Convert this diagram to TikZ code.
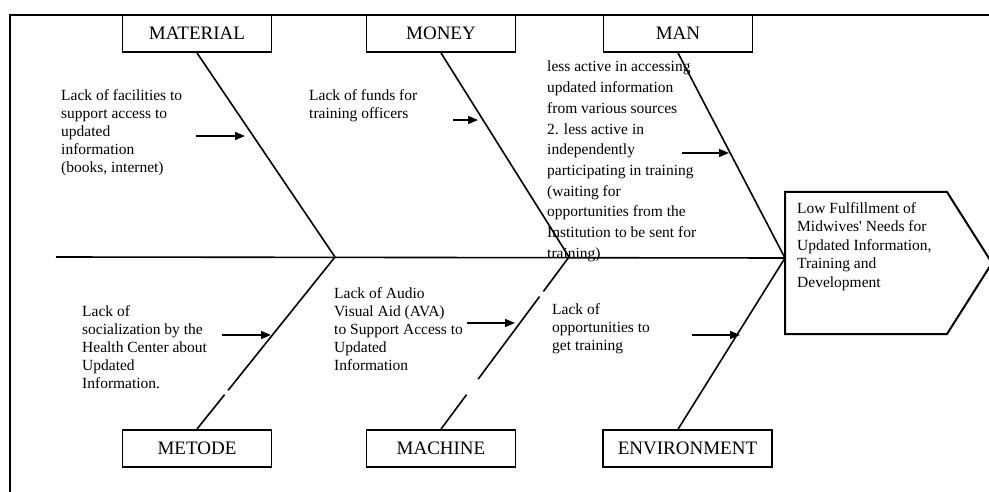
\documentclass[tikz,border=0pt]{standalone}
\usepackage{fontspec}
\setmainfont{Liberation Serif}
\usetikzlibrary{arrows.meta,calc}
\begin{document}
\begin{tikzpicture}[x=1pt,y=-1pt,
  frameline/.style={line width=2pt},
  bone/.style={line width=1.6pt},
  catbox/.style={draw,line width=1.9pt,minimum width=149pt,minimum height=37pt,inner sep=0pt,
    font=\fontsize{19}{22}\selectfont},
  cause/.style={anchor=north west,align=left,inner sep=0pt,font=\fontsize{15.5}{18}\selectfont},
  causearrow/.style={line width=1.6pt,-{Triangle[length=10pt,width=8pt]}},
]
\useasboundingbox (0,0) rectangle (989,492);
\clip (0,0) rectangle (989,492);

% outer frame
\draw[frameline] (10,492) -- (10,15) -- (989,15);

% category boxes
\node[catbox] (material) at (197,33.5) {MATERIAL};
\node[catbox] (money)    at (441,33.5) {MONEY};
\node[catbox] (man)      at (678,33.5) {MAN};
\node[catbox] (metode)   at (197,448.5) {METODE};
\node[catbox] (machine)  at (441,448.5) {MACHINE};
\node[catbox,minimum width=169pt] (env) at (687.5,448.5) {ENVIRONMENT};

% fish head
\draw[frameline] (785,192) -- (947,192) -- (992,263) -- (947,334) -- (785,334) -- cycle;
\node[cause,font=\fontsize{15.5}{18.5}\selectfont] (effect) at (797,202)
  {Low Fulfillment of\\Midwives\textquotesingle{} Needs for\\Updated Information,\\Training and\\Development};

% spine and junctions
\coordinate (tail) at (56,257);
\coordinate (jA) at (335,257);
\coordinate (jB) at (569,257);
\coordinate (head) at (785,258);
\draw[bone] (tail) -- (head);

% upper bones
\draw[bone] (material.south) -- (jA);
\draw[bone] (money.south) -- (jB);
\draw[bone] (man.south) -- (head);

% lower bones (with small breaks)
\draw[bone] (metode.north) -- ($(metode.north)!0.2!(jA)$);
\draw[bone] ($(metode.north)!0.225!(jA)$) -- (jA);
\draw[bone] (machine.north) -- ($(machine.north)!0.2!(jB)$);
\draw[bone] ($(machine.north)!0.29!(jB)$) -- ($(machine.north)!0.77!(jB)$);
\draw[bone] ($(machine.north)!0.80!(jB)$) -- (jB);
\coordinate (envfoot) at ($(env.north west)!0.445!(env.north east)$);
\draw[bone] (envfoot) -- (head);

% causes
\node[cause] (c1) at (61,89)
  {Lack of facilities to\\support access to\\updated\\information\\(books, internet)};
\node[cause] (c2) at (309,89) {Lack of funds for\\training officers};
\node[cause,font=\fontsize{15.5}{20.7}\selectfont] (c3) at (547,61)
  {less active in accessing\\updated information\\from various sources\\2. less active in\\independently\\participating in training\\(waiting for\\opportunities from the\\Institution to be sent for\\training)};
\node[cause] (c4) at (82,305)
  {Lack of\\socialization by the\\Health Center about\\Updated\\Information.};
\node[cause] (c5) at (334,287)
  {Lack of Audio\\Visual Aid (AVA)\\to Support Access to\\Updated\\Information};
\node[cause] (c6) at (552,303) {Lack of\\opportunities to\\get training};

% cause arrows
\coordinate (a1s) at (196,136); \coordinate (a1e) at (245,136);
\coordinate (a2s) at (453,120); \coordinate (a2e) at (478,120);
\coordinate (a3s) at (682,153); \coordinate (a3e) at (729,153);
\coordinate (a4s) at (222,335); \coordinate (a4e) at (271,335);
\coordinate (a5s) at (467,323); \coordinate (a5e) at (515,323);
\coordinate (a6s) at (692,335); \coordinate (a6e) at (740,335);
\draw[causearrow] (a1s) -- (a1e);
\draw[causearrow] (a2s) -- (a2e);
\draw[causearrow] (a3s) -- (a3e);
\draw[causearrow] (a4s) -- (a4e);
\draw[causearrow] (a5s) -- (a5e);
\draw[causearrow] (a6s) -- (a6e);
\end{tikzpicture}
\end{document}
